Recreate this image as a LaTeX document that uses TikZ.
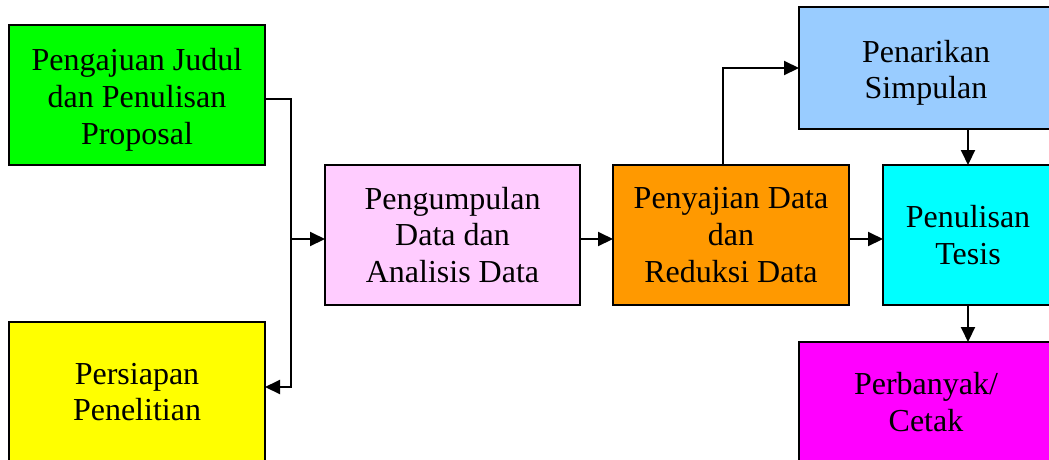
\documentclass[tikz,border=0pt]{standalone}
\usepackage{fontspec}
\setmainfont{Liberation Serif}
\usetikzlibrary{arrows.meta,calc}
\definecolor{cgreen}{HTML}{00FF00}
\definecolor{cyellow}{HTML}{FFFF00}
\definecolor{cpink}{HTML}{FFCCFF}
\definecolor{corange}{HTML}{FF9900}
\definecolor{ccyan}{HTML}{00FFFF}
\definecolor{cblue}{HTML}{99CCFF}
\definecolor{cmagenta}{HTML}{FF00FF}
\newcommand{\lowerstrut}{\rule{0pt}{32pt}}
\begin{document}
\begin{tikzpicture}[x=1pt,y=-1pt,
  box/.style={draw=black,line width=2.6pt,anchor=north west,inner sep=0pt,outer sep=0pt,
    align=center,font=\fontsize{32}{36.8}\selectfont},
  conn/.style={line width=2pt,-{Triangle[length=15pt,width=14pt]}},
  plain/.style={line width=2pt}]
\useasboundingbox (0,0) rectangle (1049,459);
\clip (0,0) rectangle (1049,459);
\fill[white] (0,0) rectangle (1049,459);
\node[box,fill=cgreen,minimum width=256pt,minimum height=140pt] (A) at (9,25) {\lowerstrut Pengajuan Judul\\dan Penulisan\\Proposal};
\node[box,fill=cyellow,minimum width=256pt,minimum height=140pt] (B) at (9,322) {Persiapan\\Penelitian};
\node[box,fill=cpink,minimum width=255pt,minimum height=140pt] (C) at (325,165) {Pengumpulan\\Data dan\\Analisis Data};
\node[box,fill=corange,minimum width=236pt,minimum height=140pt] (D) at (613,165) {Penyajian Data\\dan\\Reduksi Data};
\node[box,fill=ccyan,minimum width=170pt,minimum height=140pt] (E) at (883,165) {Penulisan\\Tesis};
\node[box,fill=cblue,minimum width=254pt,minimum height=122pt] (F) at (799,7) {\lowerstrut Penarikan\\Simpulan};
\node[box,fill=cmagenta,minimum width=254pt,minimum height=120pt] (G) at (799,342) {Perbanyak/\\Cetak};
\coordinate (j1) at (291,99);
\coordinate (j2) at (291,387);
\coordinate (j3) at (291,239);
\draw[conn] ($(A.north east)+(0,74)$) -- (j1) -- (j2) -- ($(B.north east)+(0,65)$);
\draw[conn] (j3) -- ($(C.west)+(0,4)$);
\draw[conn] ($(C.east)+(0,4)$) -- ($(D.west)+(0,4)$);
\draw[conn] ($(D.east)+(0,4)$) -- ($(E.west)+(0,4)$);
\draw[conn] ($(D.north)+(-8,0)$) |- (F.west);
\draw[conn] (E.north |- F.south) -- (E.north);
\draw[conn] (E.south) -- (E.south |- G.north);
\end{tikzpicture}
\end{document}
